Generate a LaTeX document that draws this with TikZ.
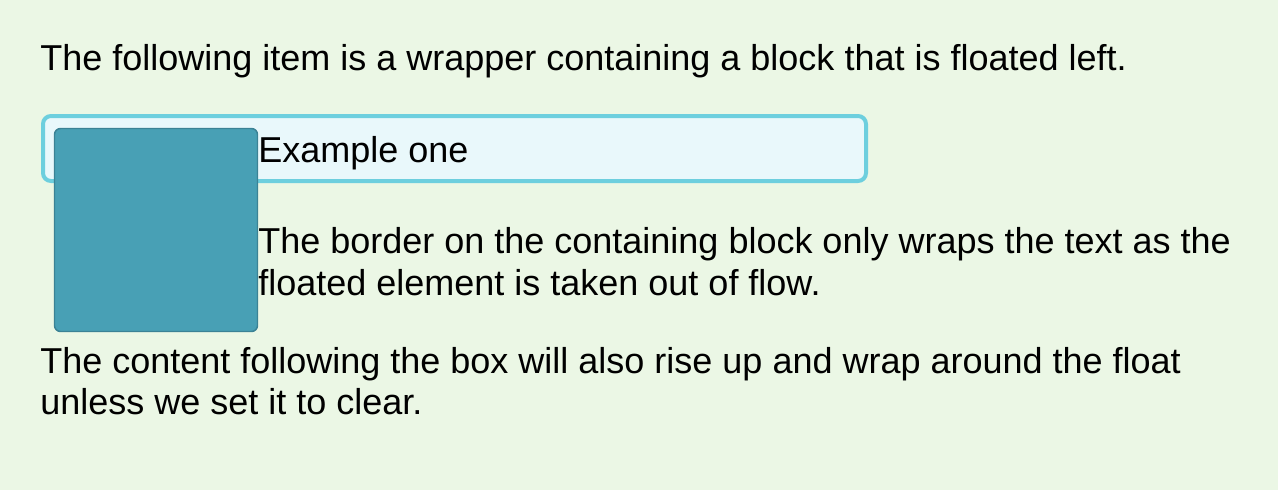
\documentclass[tikz,border=0pt]{standalone}
\usepackage{fontspec}
\setmainfont{Liberation Sans}
\usetikzlibrary{positioning}

\begin{document}
\begin{tikzpicture}[x=0.75pt, y=-0.75pt,
        txtline/.style={anchor=base west, inner sep=0pt, text=black, font=\fontsize{27}{31.5}\selectfont},
        wrapbox/.style={draw=wrapedge, fill=wrapfill, line width=3pt, rounded corners=6pt},
        floatbox/.style={draw=floatedge, fill=floatfill, line width=1.1pt, rounded corners=4.5pt}]
        % Colours
        \definecolor{pagebg}{RGB}{235, 247, 229}
        \definecolor{wrapedge}{RGB}{109, 207, 222}
        \definecolor{wrapfill}{RGB}{233, 248, 251}
        \definecolor{floatfill}{RGB}{72, 160, 181}
        \definecolor{floatedge}{RGB}{59, 130, 149}

        % Page
        \fill[pagebg] (0, 0) rectangle (1278, 490);
        \useasboundingbox (0, 0) rectangle (1278, 490);

        % 1. Intro line
        \node[txtline] (intro) at (40, 70) {The following item is a wrapper containing a block that is floated left.};

        % 2. Wrapper and the floated block
        \draw[wrapbox] (43, 116) rectangle (866, 181);
        \draw[floatbox] (54.5, 128.5) rectangle (257.5, 331.5);
        \node[txtline] (example) at (258, 162) {Example one};

        % 3. Text beside the float
        \node[txtline] (border1) at (258, 253) {The border on the containing block only wraps the text as the};
        \node[txtline] (border2) at (258, 295) {floated element is taken out of flow.};

        % 4. Following content
        \node[txtline] (after1) at (40, 373) {The content following the box will also rise up and wrap around the float};
        \node[txtline] (after2) at (40, 414) {unless we set it to clear.};
\end{tikzpicture}
\end{document}
